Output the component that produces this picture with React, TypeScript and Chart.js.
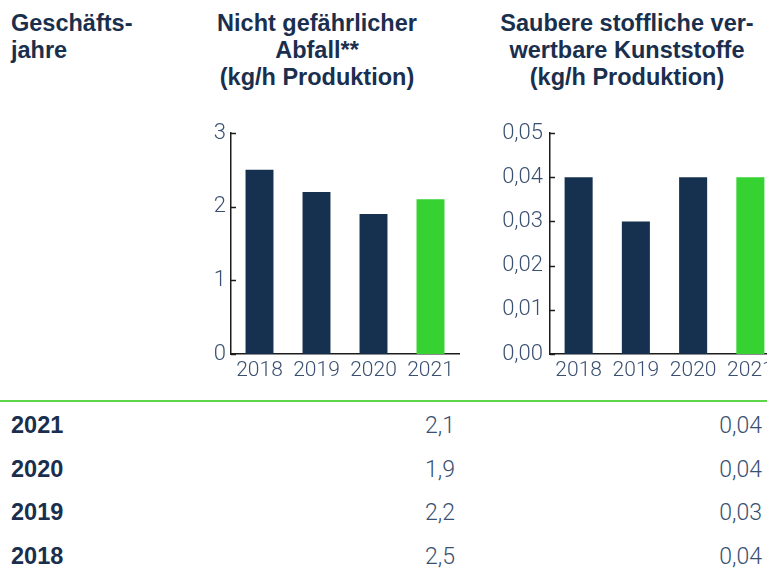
import React, { useEffect, useRef } from "react";
import { Chart, registerables } from "chart.js";

Chart.register(...registerables);

const years = ["2018", "2019", "2020", "2021"];
const abfallValues = [2.5, 2.2, 1.9, 2.1];
const kunststoffeValues = [0.04, 0.03, 0.04, 0.04];
const abfallTicks = [0, 1, 2, 3];
const kunststoffeTicks = [0, 0.01, 0.02, 0.03, 0.04, 0.05];
const highlightYear = "2021";

const header1 = ["Geschäfts-", "jahre"];
const header2 = ["Nicht gefährlicher", "Abfall**", "(kg/h Produktion)"];
const header3 = ["Saubere stoffliche ver-", "wertbare Kunststoffe", "(kg/h Produktion)"];

const NAVY = "#163050";
const GREEN = "#35d232";
const TEXT = "#1a2f4e";
const TICK = "#3a5070";
const BOLD_FONT = "'Liberation Sans', Arial, sans-serif";
const LIGHT_FONT = "Roboto, 'Liberation Sans', sans-serif";

const fmt = (v: number, d: number) => v.toFixed(d).replace(".", ",");

const innerTicks = {
  id: "innerTicks",
  afterDraw(chart: any) {
    const y = chart.scales.y;
    const area = chart.chartArea;
    const ctx = chart.ctx;
    ctx.save();
    ctx.strokeStyle = "#1c1c1c";
    ctx.lineWidth = 1.5;
    y.ticks.forEach((t: any) => {
      const py = Math.round(y.getPixelForValue(t.value)) + 0.5;
      ctx.beginPath();
      ctx.moveTo(area.left, py);
      ctx.lineTo(area.left + 5, py);
      ctx.stroke();
    });
    ctx.restore();
  },
};

function BarChart(props: {
  values: number[];
  ticks: number[];
  decimals: number;
  yWidth: number;
  yPad: number;
  yFont: number;
  width: number;
  height: number;
  left: number;
  top: number;
}) {
  const ref = useRef<HTMLCanvasElement | null>(null);
  useEffect(() => {
    if (!ref.current) return;
    const max = props.ticks[props.ticks.length - 1];
    const step = props.ticks[1] - props.ticks[0];
    const chart = new Chart(ref.current, {
      type: "bar",
      data: {
        labels: years,
        datasets: [
          {
            data: props.values,
            backgroundColor: years.map((y) => (y === highlightYear ? GREEN : NAVY)),
            barPercentage: 0.49,
            categoryPercentage: 1,
            borderWidth: 0,
          },
        ],
      },
      options: {
        responsive: false,
        animation: false,
        devicePixelRatio: 1,
        layout: { padding: { left: 0, right: 11, top: 23, bottom: 0 } },
        plugins: { legend: { display: false }, tooltip: { enabled: false } },
        scales: {
          x: {
            grid: { display: false, drawTicks: false },
            border: { display: true, color: "#1c1c1c", width: 1.5 },
            ticks: {
              color: TICK,
              padding: 4,
              font: { family: LIGHT_FONT, size: 21, weight: "300" },
              maxRotation: 0,
            },
            afterFit: (s: any) => {
              s.height = 36;
            },
          },
          y: {
            min: 0,
            max: max,
            grid: { display: false, drawTicks: false },
            border: { display: true, color: "#1c1c1c", width: 1.5 },
            ticks: {
              stepSize: step,
              color: TICK,
              padding: props.yPad,
              font: { family: LIGHT_FONT, size: props.yFont, weight: "300" },
              callback: (v: any) => fmt(Number(v), props.decimals),
            },
            afterFit: (s: any) => {
              s.width = props.yWidth;
            },
          },
        },
      },
      plugins: [innerTicks],
    });
    return () => chart.destroy();
  }, []);
  return (
    <canvas
      ref={ref}
      width={props.width}
      height={props.height}
      style={{
        position: "absolute",
        left: props.left,
        top: props.top,
        width: props.width,
        height: props.height,
      }}
    />
  );
}

const headerStyle: React.CSSProperties = {
  position: "absolute",
  top: 10,
  fontFamily: BOLD_FONT,
  fontWeight: 700,
  fontSize: 23.5,
  lineHeight: "27px",
  color: TEXT,
  whiteSpace: "nowrap",
};

export default function App() {
  const rowYears = [...years].reverse();
  const rowTops = [412.4, 455.9, 499.4, 542.9];
  return (
    <div
      style={{
        position: "fixed",
        left: 0,
        top: 0,
        width: 767,
        height: 574,
        overflow: "hidden",
        background: "#fff",
      }}
    >
      <div style={{ ...headerStyle, left: 11 }}>
        {header1.map((l) => (
          <div key={l}>{l}</div>
        ))}
      </div>
      <div style={{ ...headerStyle, left: 167, width: 300, textAlign: "center" }}>
        {header2.map((l) => (
          <div key={l}>{l}</div>
        ))}
      </div>
      <div style={{ ...headerStyle, left: 477, width: 300, textAlign: "center" }}>
        {header3.map((l) => (
          <div key={l}>{l}</div>
        ))}
      </div>

      <BarChart
        values={abfallValues}
        ticks={abfallTicks}
        decimals={0}
        yWidth={51}
        yPad={5}
        yFont={22}
        width={290}
        height={280}
        left={180}
        top={110}
      />
      <BarChart
        values={kunststoffeValues}
        ticks={kunststoffeTicks}
        decimals={2}
        yWidth={70}
        yPad={7}
        yFont={22}
        width={310}
        height={280}
        left={480}
        top={110}
      />

      <div
        style={{
          position: "absolute",
          left: 0,
          top: 400,
          width: 767,
          height: 2,
          background: "#5fd64a",
        }}
      />

      {rowYears.map((y, i) => {
        const idx = years.indexOf(y);
        return (
          <React.Fragment key={y}>
            <div
              style={{
                position: "absolute",
                left: 11,
                top: rowTops[i],
                fontFamily: BOLD_FONT,
                fontWeight: 700,
                fontSize: 23.5,
                lineHeight: "27px",
                color: TEXT,
              }}
            >
              {y}
            </div>
            <div
              style={{
                position: "absolute",
                right: 767 - 455,
                top: rowTops[i],
                fontFamily: LIGHT_FONT,
                fontWeight: 300,
                fontSize: 23,
                lineHeight: "27px",
                color: TICK,
                textAlign: "right",
              }}
            >
              {fmt(abfallValues[idx], 1)}
            </div>
            <div
              style={{
                position: "absolute",
                right: 767 - 762,
                top: rowTops[i],
                fontFamily: LIGHT_FONT,
                fontWeight: 300,
                fontSize: 23,
                lineHeight: "27px",
                color: TICK,
                textAlign: "right",
              }}
            >
              {fmt(kunststoffeValues[idx], 2)}
            </div>
          </React.Fragment>
        );
      })}
    </div>
  );
}
